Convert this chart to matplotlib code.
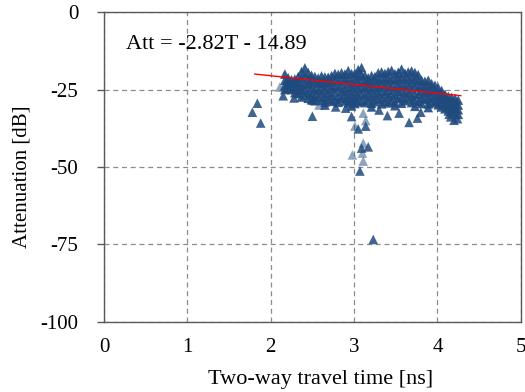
import numpy as np
import matplotlib
matplotlib.use("Agg")
import matplotlib.pyplot as plt

plt.rcParams["font.family"] = ["Liberation Serif", "DejaVu Serif"]

# Dense cluster of measurements: travel-time columns and attenuation values in each
cloud_times = [2.17, 2.21, 2.25, 2.29, 2.33, 2.37, 2.41, 2.45, 2.49, 2.53,
               2.57, 2.61, 2.65, 2.69, 2.73, 2.77, 2.81, 2.85, 2.89, 2.93,
               2.97, 3.01, 3.05, 3.09, 3.13, 3.17, 3.21, 3.25, 3.29, 3.33,
               3.37, 3.41, 3.45, 3.49, 3.53, 3.57, 3.61, 3.65, 3.69, 3.73,
               3.77, 3.81, 3.85, 3.89, 3.93, 3.97, 4.01, 4.05, 4.09, 4.13,
               4.17, 4.21, 4.25]
cloud_att = [
    [-20.0, -22.0, -23.6, -25.0],
    [-21.2, -22.8, -24.5],
    [-21.8, -23.5, -25.0],
    [-21.6, -23.0, -24.8, -26.0],
    [-20.8, -22.6, -24.4, -26.3],
    [-19.2, -21.3, -23.6, -25.2, -27.4],
    [-18.0, -20.5, -22.9, -24.8, -26.7],
    [-19.5, -21.6, -23.3, -25.9, -27.8],
    [-20.4, -22.1, -24.2, -26.4, -28.2],
    [-20.8, -22.6, -24.9, -27.1, -28.6],
    [-21.3, -23.0, -25.3, -27.5],
    [-20.6, -22.4, -24.1, -26.2, -28.4],
    [-20.9, -22.8, -25.0, -27.3, -29.0, -30.0],
    [-21.0, -21.9, -23.7, -26.0, -28.1],
    [-20.5, -22.5, -24.6, -26.8, -28.8],
    [-19.8, -21.7, -23.9, -25.8, -28.3],
    [-20.1, -22.2, -24.4, -27.2, -29.1],
    [-19.6, -21.5, -23.4, -25.6, -27.9],
    [-20.0, -22.0, -24.7, -26.6, -28.7],
    [-18.9, -21.2, -23.1, -25.4, -27.6, -29.3],
    [-19.9, -22.3, -24.3, -26.5, -28.5, -30.3],
    [-19.7, -21.4, -23.5, -25.7, -27.8, -29.5],
    [-18.6, -20.6, -22.7, -24.8, -27.0, -29.0],
    [-17.9, -20.2, -22.1, -24.2, -26.3, -28.6],
    [-20.4, -22.6, -24.5, -26.9, -29.2],
    [-21.2, -22.4, -24.0, -26.1, -28.4],
    [-20.5, -22.9, -25.1, -27.4, -29.4, -30.6],
    [-20.8, -22.2, -24.4, -26.7, -28.9],
    [-19.6, -21.8, -23.9, -26.0, -28.2],
    [-19.3, -21.3, -23.3, -25.5, -27.7, -29.6],
    [-19.8, -21.9, -24.1, -26.4, -28.8],
    [-19.2, -21.1, -23.0, -25.2, -27.3, -29.3],
    [-18.8, -21.6, -23.8, -26.2, -28.5],
    [-19.9, -22.0, -24.5, -26.8, -29.1, -30.2],
    [-19.4, -21.4, -23.4, -25.6, -27.9],
    [-18.4, -21.0, -23.2, -25.3, -27.5, -29.4],
    [-19.7, -21.8, -24.0, -26.3, -28.6],
    [-19.3, -21.5, -23.6, -25.9, -28.0],
    [-19.0, -20.9, -22.8, -24.9, -27.2, -29.2],
    [-19.5, -21.7, -23.9, -26.6, -28.7, -30.4],
    [-20.2, -22.1, -24.3, -26.5, -28.9],
    [-22.0, -23.4, -25.4, -27.6, -29.5],
    [-22.3, -24.2, -26.1, -28.2],
    [-22.0, -23.8, -25.7, -27.8, -29.6, -30.8],
    [-23.1, -24.9, -26.9, -28.8],
    [-23.6, -25.3, -27.3, -29.3],
    [-24.4, -26.2, -28.1, -29.9],
    [-25.3, -27.0, -28.9, -30.6],
    [-26.5, -28.1, -29.7, -31.2],
    [-27.2, -28.8, -30.4, -31.9],
    [-27.5, -29.0, -30.6, -32.2],
    [-27.8, -29.3, -31.0, -32.6],
    [-28.4, -30.0, -31.5, -33.0],
]

# Scattered readings below the main cluster
sparse_t = [1.78, 1.84, 1.88, 2.15, 2.28, 2.50, 2.50, 2.78, 2.90, 2.97,
            3.05, 3.14, 3.09, 3.17, 3.07, 3.23, 3.40, 3.54, 3.66, 3.76,
            3.80, 3.30, 4.14, 4.16, 4.20, 4.24]
sparse_att = [-32.3, -29.4, -35.8, -27.0, -27.7, -28.4, -33.6, -30.6, -31.0, -33.7,
              -37.7, -36.8, -43.9, -43.5, -51.3, -73.4, -33.4, -32.6, -35.6, -34.2,
              -32.3, -31.6, -33.0, -33.8, -34.9, -34.4]

# Fainter readings
faint_t = [2.11, 2.58, 3.01, 3.11, 3.11, 2.98, 3.10, 3.11, 3.14]
faint_att = [-24.2, -30.0, -36.8, -32.6, -42.3, -46.1, -45.5, -48.1, -35.0]

# Linear fit: Att = slope * T + intercept
slope = -2.82
intercept = -14.89
fit_range = [1.81, 4.28]

x_ticks = [0, 1, 2, 3, 4, 5]
y_ticks = [0, -25, -50, -75, -100]

cloud_x = []
cloud_y = []
for t, vals in zip(cloud_times, cloud_att):
    cloud_x.extend([t] * len(vals))
    cloud_y.extend(vals)

marker_color = "#1F4A7E"

fig = plt.figure(figsize=(5.25, 3.92), dpi=100)
ax = fig.add_axes([0.198, 0.179, 0.794, 0.790])

ms = 48
ax.scatter(faint_t, faint_att, marker="^", s=ms, color=marker_color,
           alpha=0.5, edgecolors="none", zorder=3)
ax.scatter(sparse_t, sparse_att, marker="^", s=ms, color=marker_color,
           alpha=0.85, edgecolors="none", zorder=3)
ax.scatter(cloud_x, cloud_y, marker="^", s=ms, color=marker_color,
           alpha=0.9, edgecolors="none", zorder=3)

fx = np.array(fit_range)
ax.plot(fx, slope * fx + intercept, color="#FF0000", lw=1.0, zorder=4)

ax.text(0.26, -10.6, f"Att = {slope:.2f}T - {abs(intercept):.2f}",
        fontsize=16, va="center", ha="left")

ax.set_xlim(0, 5)
ax.set_ylim(-100, 0)
ax.set_xticks(x_ticks)
ax.set_yticks(y_ticks)
ax.set_yticklabels([str(v) for v in y_ticks])
ax.tick_params(axis="x", length=0, pad=12, labelsize=15)
ax.tick_params(axis="y", length=5, width=1, color="#595959", pad=13.5, labelsize=15)

ax.grid(True, linestyle=(0, (4, 3)), color="#8C8C8C", lw=0.9)
ax.set_axisbelow(True)
for sp in ax.spines.values():
    sp.set_color("#595959")
    sp.set_linewidth(1.0)

ax.set_xlabel("Two-way travel time [ns]", fontsize=16, labelpad=9, x=0.52)
ax.set_ylabel("Attenuation [dB]", fontsize=15, labelpad=6, y=0.47)

fig.savefig("out.png", dpi=100)
